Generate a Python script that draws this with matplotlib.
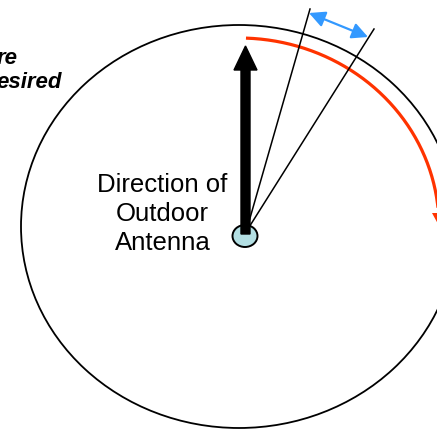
import numpy as np
import matplotlib
matplotlib.use("Agg")
import matplotlib.pyplot as plt
from matplotlib.patches import Ellipse, FancyArrow, FancyArrowPatch

# Diagram geometry (pixel coordinates, y downward)
ellipse_center = (239, 226.5)
ellipse_size = (436, 403)          # full width / height of outer ellipse
red_arc_radii = (200, 188.5)
red_arc_angles = (88.0, 3.0)       # degrees, start -> end (clockwise)
red_head = ((438, 211), (438, 224))
antenna_center = (245, 236)
antenna_size = (25, 22)
arrow_tip = (245.5, 46)
beam_origin = (246, 232)
beam_ends = [(310, 9), (374, 29)]
beam_width_arrow = [(309, 13), (368, 37)]
label_text = "Direction of\nOutdoor\nAntenna"
label_pos = (162.5, 214)
partial_lines = ["re", "esired"]
partial_pos = [(18, 59), (62, 83)]

fig = plt.figure(figsize=(4.37, 4.29), dpi=100)
ax = fig.add_axes([0, 0, 1, 1])
ax.set_xlim(0, 437)
ax.set_ylim(429, 0)
ax.axis("off")

# outer ellipse
ax.add_patch(Ellipse(ellipse_center, ellipse_size[0], ellipse_size[1],
                     fill=False, edgecolor="black", lw=1.3))

# red arc
t = np.radians(np.linspace(red_arc_angles[0], red_arc_angles[1], 200))
rx = ellipse_center[0] + red_arc_radii[0] * np.cos(t)
ry = ellipse_center[1] - red_arc_radii[1] * np.sin(t)
ax.plot(rx, ry, color="#ff3300", lw=2.3, solid_capstyle="butt")
ax.add_patch(FancyArrow(red_head[0][0], red_head[0][1], 0,
                        red_head[1][1] - red_head[0][1],
                        width=0.1, head_width=12, head_length=11,
                        length_includes_head=True, color="#ff3300", lw=0))

# beam lines
for ex, ey in beam_ends:
    ax.plot([beam_origin[0], ex], [beam_origin[1], ey], color="black", lw=1.1)

# blue double arrow
ax.add_patch(FancyArrowPatch(beam_width_arrow[0], beam_width_arrow[1],
                             arrowstyle="<|-|>", mutation_scale=24,
                             color="#3399ff", lw=1.6, shrinkA=0, shrinkB=0))

# antenna circle
ax.add_patch(Ellipse(antenna_center, antenna_size[0], antenna_size[1],
                     facecolor="#b3dfe3", edgecolor="black", lw=1.4, zorder=3))

# big black arrow
ax.add_patch(FancyArrow(arrow_tip[0], antenna_center[1] - 2, 0,
                        arrow_tip[1] - (antenna_center[1] - 2),
                        width=9, head_width=23, head_length=24,
                        length_includes_head=True, color="black", zorder=4))

ax.text(label_pos[0], label_pos[1], label_text, ha="center", va="center",
        fontsize=18.5, family="Liberation Sans", linespacing=1.28)

for s, (px, py) in zip(partial_lines, partial_pos):
    ax.text(px, py, s, ha="right", va="center", fontsize=16,
            family="Liberation Sans", fontweight="bold", fontstyle="italic")

fig.savefig("out.png", dpi=100)
